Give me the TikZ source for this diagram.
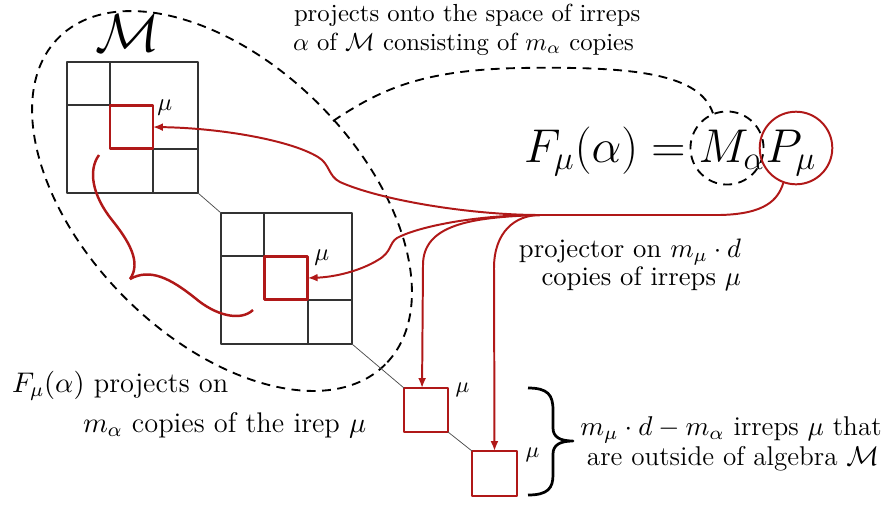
\RequirePackage{fix-cm}
\documentclass[tikz,border=0pt]{standalone}
\usepackage{amsmath}
\usetikzlibrary{arrows.meta}
\definecolor{myred}{RGB}{176,24,24}
\begin{document}
\begin{tikzpicture}[x=0.405pt, y=-0.405pt, line join=round,
  gridline/.style={draw=black!80, line width=0.55pt},
  gridbox/.style={draw=black!80, line width=0.55pt, minimum size=53.06pt, inner sep=0pt, outer sep=0pt},
  redsq/.style={draw=myred, line width=1.1pt, minimum size=#1, inner sep=0pt, outer sep=0pt},
  redarrow/.style={draw=myred, line width=0.8pt, -{Latex[length=4pt,width=3.2pt]}},
  redline/.style={draw=myred, line width=0.8pt},
  dashline/.style={draw=black, line width=0.75pt, dash pattern=on 3.6pt off 2.6pt},
  linkline/.style={draw=black!70, line width=0.3pt},
  txt/.style={inner sep=0pt, outer sep=0pt},
  mulabel/.style={inner sep=0pt, anchor=base west}]
\useasboundingbox (0,0) rectangle (881,504);

% ellipse around algebra M
\draw[dashline, rotate around={-45:(222,201)}] (222,201) ellipse [x radius=231, y radius=137];
\coordinate (ellpt) at (333,121);

% matrix 1
\node[gridbox] (m1) at (132.5,127.5) {};
\draw[gridline] (110,62) -- (110,105) -- (67,105);
\draw[gridline] (153,193) -- (153,149) -- (198,149);
\node[redsq=17.4pt] (r1) at (131.5,127) {};
\node[mulabel] (mu1) at (157,110.5) {$\mu$};

% matrix 2
\node[gridbox] (m2) at (286.5,278.5) {};
\draw[gridline] (264,213) -- (264,256) -- (221,256);
\draw[gridline] (308,344) -- (308,300) -- (352,300);
\node[redsq=17.6pt] (r2) at (286,278) {};
\node[mulabel] (mu2) at (314,260) {$\mu$};

% small squares
\node[redsq=17.8pt] (s1) at (426,410) {};
\node[redsq=18.2pt] (s2) at (494.5,473.5) {};
\node[mulabel, font=\small] (mu3) at (455,392) {$\mu$};
\node[mulabel, font=\small] (mu4) at (525,457.5) {$\mu$};

% links
\draw[linkline] (m1.south east) -- (m2.north west);
\draw[linkline] (m2.south east) -- (s1.north west);
\draw[linkline] (s1.south east) -- (s2.north west);

% label M
\node[txt, anchor=base west, font=\fontsize{21.7}{26}\selectfont] (Mlab) at (95,51) {$\mathcal{M}$};

% equation and circles
\node[txt, anchor=base west, font=\fontsize{19.2}{23}\selectfont] (eq) at (524,162) {$F_\mu(\alpha) = M_\alpha P_\mu$};
\node[circle, dashline, minimum size=29.6pt, inner sep=0pt] (Mc) at (727,148) {};
\node[circle, draw=myred, line width=0.8pt, minimum size=29.4pt, inner sep=0pt] (Pc) at (796,148) {};

% top text
\node[txt, anchor=base west] (t1) at (294,21) {projects onto the space of irreps};
\node[txt, anchor=base west] (t2) at (293,50) {$\alpha$ of $\mathcal{M}$ consisting of $m_\alpha$ copies};

% projector text
\node[txt, anchor=base east, font=\fontsize{10.8}{13}\selectfont] (p1) at (741,257) {projector on $m_\mu\cdot d$};
\node[txt, anchor=base east, font=\fontsize{10.8}{13}\selectfont] (p2) at (741,285) {copies of irreps $\mu$};

% brace text
\node[txt, anchor=base, font=\fontsize{11}{13}\selectfont] (b1) at (731,435) {$m_\mu\cdot d - m_\alpha$ irreps $\mu$ that};
\node[txt, anchor=base, font=\fontsize{11}{13}\selectfont] (b2) at (733,465) {are outside of algebra $\mathcal{M}$};

% bottom-left text
\node[txt, anchor=base west, font=\fontsize{11.5}{14}\selectfont] (l1) at (12,392) {$F_\mu(\alpha)$ projects on};
\node[txt, anchor=base west, font=\fontsize{11.5}{14}\selectfont] (l2) at (83,432) {$m_\alpha$ copies of the irep $\mu$};

% brace
\draw[black, line width=1.1pt] (528,388) .. controls (548,388) and (553,395) .. (553,410) -- (553,428)
  .. controls (553,437) and (560,441) .. (573,441) .. controls (560,441) and (553,445) .. (553,454)
  -- (553,475) .. controls (553,488) and (548,495) .. (528,495);

% dashed connector from ellipse to M_alpha
\draw[dashline] (ellpt) .. controls (380,90) and (420,70) .. (520,68) .. controls (640,66) and (700,75) .. (Mc.112);

% red connectors
\coordinate (hub) at (540,215);
\draw[redline] (Pc.250) .. controls (778,200) and (765,214) .. (720,215) -- (hub);
\draw[redarrow] (hub) .. controls (470,215) and (380,200) .. (340,182)
  .. controls (328,176) and (330,164) .. (318,157)
  .. controls (290,140) and (220,128) .. (r1.east);
\draw[redarrow] (hub) .. controls (470,215) and (415,228) .. (397,238)
  .. controls (389,243) and (392,252) .. (378,260)
  .. controls (360,271) and (335,277) .. (r2.east);
\draw[redarrow] (hub) .. controls (470,217) and (423,225) .. (423,265) -- ([xshift=-1.6pt]s1.north);
\draw[redarrow] (hub) .. controls (515,215) and (494,232) .. (494,268) -- (s2.north);

% red curly stroke between matrices
\draw[redline, line width=1pt] (99,155) .. controls (88,170) and (92,195) .. (112,220)
  .. controls (128,240) and (142,262) .. (130,279);
\draw[redline, line width=1pt] (130,279) .. controls (150,268) and (170,278) .. (195,298)
  .. controls (215,315) and (240,322) .. (253,310);
\end{tikzpicture}
\end{document}
